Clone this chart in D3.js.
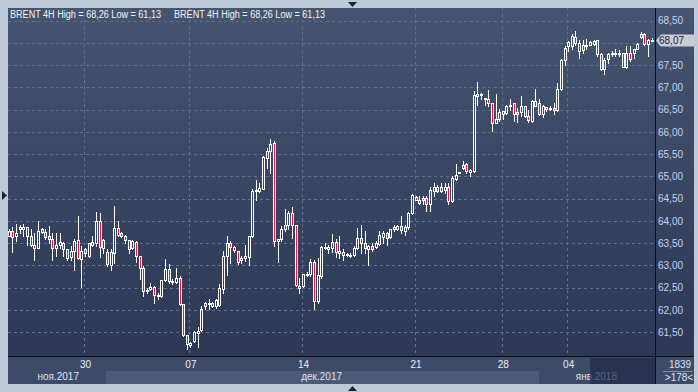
<!DOCTYPE html>
<html>
<head>
<meta charset="utf-8">
<title>BRENT 4H</title>
<script src="https://d3js.org/d3.v7.min.js"></script>
<style>
  body { margin: 0; background: #bfcad9; }
  svg { display: block; }
  text { font-family: "Liberation Sans", Arial, sans-serif; }
</style>
</head>
<body>
<script>
// 4H candles (oldest first)
var opens = [63.67,63.77,63.67,63.83,63.83,63.87,63.67,63.47,63.40,63.76,63.76,63.67,63.60,63.40,63.45,63.51,63.36,63.19,63.32,63.58,
  63.15,63.36,63.21,63.47,63.51,63.99,63.40,63.31,63.02,63.28,63.85,63.73,63.67,63.58,63.40,63.52,63.22,62.94,62.42,62.48,
  62.52,62.33,62.31,62.67,62.92,62.65,62.63,62.72,62.14,61.43,61.21,61.30,61.49,61.55,62.09,62.15,62.10,62.09,62.11,62.48,
  63.21,63.50,63.42,63.32,63.12,63.17,63.20,63.66,64.67,64.67,64.72,65.42,65.57,65.74,63.55,63.59,63.81,63.92,64.17,63.90,
  62.50,62.54,62.79,62.81,63.08,62.20,62.76,63.42,63.38,63.40,63.53,63.32,63.30,63.25,63.23,63.23,63.40,63.62,63.50,63.36,
  63.44,63.42,63.48,63.65,63.72,63.65,63.81,63.83,63.89,63.77,63.87,64.18,64.54,64.48,64.47,64.52,64.39,64.67,64.67,64.68,
  64.70,64.76,64.45,64.95,65.10,65.19,65.27,65.10,65.12,66.80,66.82,66.76,66.74,66.64,66.20,66.28,66.47,66.43,66.58,66.64,
  66.39,66.44,66.59,66.35,66.24,66.69,66.64,66.41,66.56,66.54,66.54,66.50,66.97,67.62,67.92,67.92,68.13,68.00,67.83,67.96,
  67.96,67.98,68.06,67.74,67.41,67.64,67.74,67.76,67.74,67.77,67.46,67.76,67.77,67.86,68.13,68.19,67.98,68.07];
var highs = [63.81,63.87,63.94,63.90,63.94,63.87,63.82,63.73,63.99,63.85,63.82,63.88,63.73,63.73,63.72,63.52,63.36,63.43,63.60,64.11,
  63.43,63.40,63.51,63.67,64.20,64.18,63.60,63.36,63.36,64.33,63.99,63.75,63.69,63.58,63.58,63.55,63.22,62.98,62.50,62.60,
  62.55,62.39,62.68,63.15,63.04,62.70,62.95,62.76,62.14,61.43,61.28,61.53,61.62,62.08,62.18,62.25,62.17,62.24,62.58,63.32,
  63.66,63.55,63.44,63.32,63.21,63.47,63.67,64.71,64.93,64.86,65.46,65.64,65.83,65.79,63.59,63.88,64.26,64.22,64.32,63.90,
  62.72,62.82,62.85,63.14,63.12,63.17,63.44,63.51,63.47,63.70,63.59,63.66,63.38,63.29,63.27,63.44,63.85,63.92,63.77,63.45,
  63.51,63.55,63.77,63.77,63.75,63.83,63.92,63.92,64.11,63.92,64.20,64.60,64.56,64.57,64.56,64.56,64.77,64.86,64.80,64.86,
  64.86,64.86,65.01,65.27,65.11,65.34,65.31,65.17,66.91,67.12,66.88,66.77,66.95,66.64,66.84,66.52,66.47,66.61,66.74,66.65,
  66.54,66.80,66.59,66.50,66.71,66.97,66.73,66.61,66.56,66.57,66.65,67.09,67.64,67.92,68.04,68.19,68.26,68.06,68.07,68.09,
  68.04,68.06,68.07,67.77,67.66,67.77,67.81,67.85,67.83,67.77,67.92,67.92,67.86,68.00,68.24,68.22,68.09,68.10];
var lows = [63.66,63.30,63.55,63.73,63.67,63.47,63.43,63.12,63.40,63.73,63.60,63.51,63.12,63.21,63.40,63.22,63.13,63.13,62.89,63.15,
  62.52,63.21,63.19,63.43,63.43,63.19,63.28,62.98,62.89,63.06,63.67,63.64,63.51,63.28,63.36,63.07,62.70,62.31,62.39,62.46,
  62.15,62.24,62.30,62.65,62.61,62.58,62.61,62.12,61.41,61.13,61.16,61.29,61.16,61.52,62.02,62.02,62.06,62.05,62.09,62.39,
  62.78,63.06,63.30,63.03,63.06,63.10,63.00,63.65,64.48,64.65,64.71,65.19,65.08,63.44,63.08,63.55,63.77,63.81,63.62,62.54,
  62.39,62.52,62.76,62.76,62.02,62.16,62.73,63.38,63.29,63.30,63.20,63.17,63.12,63.21,63.20,63.21,63.36,63.29,63.29,63.02,
  63.33,63.40,63.47,63.50,63.47,63.62,63.77,63.80,63.74,63.68,63.81,64.15,64.47,64.37,64.37,64.22,64.22,64.56,64.65,64.65,
  64.62,64.37,64.42,64.92,65.09,65.16,65.08,65.01,65.10,66.61,66.73,66.61,66.58,66.02,66.19,66.24,66.28,66.41,66.50,66.24,
  66.22,66.35,66.34,66.22,66.22,66.58,66.37,66.34,66.47,66.50,66.39,66.47,66.95,67.51,67.81,67.86,67.94,67.66,67.77,67.85,
  67.94,67.94,67.71,67.39,67.29,67.55,67.70,67.71,67.71,67.46,67.44,67.59,67.66,67.85,68.10,67.96,67.70,68.05];
var closes = [63.77,63.64,63.73,63.86,63.86,63.67,63.47,63.40,63.78,63.82,63.64,63.60,63.40,63.47,63.52,63.37,63.17,63.32,63.56,63.17,
  63.32,63.28,63.50,63.52,64.00,63.42,63.57,63.04,63.31,63.85,63.69,63.67,63.57,63.37,63.54,63.22,62.94,62.42,62.46,62.52,
  62.34,62.34,62.68,62.92,62.65,62.66,62.72,62.14,61.43,61.24,61.27,61.51,61.54,62.02,62.15,62.16,62.15,62.22,62.50,63.21,
  63.50,63.42,63.35,63.08,63.17,63.21,63.66,64.67,64.69,64.75,65.44,65.57,65.72,63.55,63.59,63.82,63.92,64.17,63.90,62.57,
  62.55,62.80,62.82,63.08,62.20,62.78,63.42,63.40,63.42,63.53,63.30,63.27,63.23,63.25,63.23,63.40,63.62,63.50,63.40,63.44,
  63.36,63.50,63.68,63.72,63.62,63.81,63.87,63.89,63.80,63.87,64.18,64.58,64.48,64.41,64.52,64.37,64.69,64.77,64.77,64.77,
  64.76,64.45,64.97,65.04,65.10,65.25,65.12,65.14,66.82,66.86,66.85,66.77,66.65,66.19,66.28,66.44,66.39,66.59,66.61,66.39,
  66.44,66.59,66.35,66.26,66.69,66.59,66.39,66.59,66.52,66.52,66.49,66.97,67.62,67.89,68.01,68.16,68.00,67.81,67.94,67.96,
  68.01,68.04,67.74,67.40,67.62,67.74,67.77,67.76,67.77,67.46,67.77,67.64,67.86,67.98,68.20,67.98,68.07,68.07];

var priceTicks = [61.5, 62.0, 62.5, 63.0, 63.5, 64.0, 64.5, 65.0, 65.5, 66.0, 66.5, 67.0, 67.5, 68.0, 68.5];
var dateTickIdx = [21, 50, 81, 112, 136, 154];
var dateTickLabels = ["30", "07", "14", "21", "28", "04"];
var monthLabels = ["ноя.2017", "дек.2017", "янв.2018"];
var legendText = "BRENT 4H High = 68,26 Low = 61,13";
var lastPrice = 68.07;
var totalBars = "1839", shownBars = ">178<";

var W = 698, H = 392;
var plot = {left: 8, right: 655, top: 8, bottom: 356};
var red = "#e0173f";

var svg = d3.select("body").append("svg")
  .attr("width", W).attr("height", H);

var defs = svg.append("defs");
var grad = defs.append("linearGradient").attr("id", "bg")
  .attr("x1", 0).attr("y1", 0).attr("x2", 0).attr("y2", 1);
grad.append("stop").attr("offset", "0%").attr("stop-color", "#46556f");
grad.append("stop").attr("offset", "100%").attr("stop-color", "#2c3855");
defs.append("clipPath").attr("id", "clip").append("rect")
  .attr("x", plot.left).attr("y", plot.top)
  .attr("width", plot.right - plot.left).attr("height", plot.bottom - plot.top);

// outer frame
svg.append("rect").attr("width", W).attr("height", H).attr("fill", "#bfcad9");
svg.append("rect").attr("x", 8).attr("y", 8).attr("width", 686).attr("height", 376).attr("fill", "#3c4a67");
svg.append("rect").attr("x", plot.left).attr("y", plot.top)
  .attr("width", 686).attr("height", plot.bottom - plot.top).attr("fill", "url(#bg)");

// little arrows on the frame
svg.append("path").attr("d", "M348,2 L357,2 L352.5,7 Z").attr("fill", "#1c2436");
svg.append("path").attr("d", "M348,391 L357,391 L352.5,386 Z").attr("fill", "#1c2436");
svg.append("path").attr("d", "M2,191 L2,200 L7,195.5 Z").attr("fill", "#1c2436");

// scales
var x = d3.scaleBand().domain(d3.range(opens.length)).range([7.5, 654]);
var y = d3.scaleLinear().domain([61.5, 68.5]).range([332.3, 20.5]);
var cx = function(i) { return Math.floor(x(i) + x.bandwidth() / 2); };
var fmt = function(v) { return d3.format(".2f")(v).replace(".", ","); };

// bottom bands
var bottom = svg.append("g");
bottom.append("rect").attr("x", 8).attr("y", 357).attr("width", 647).attr("height", 27).attr("fill", "#3d4b68");
bottom.append("rect").attr("x", 106).attr("y", 371).attr("width", 433).attr("height", 13).attr("fill", "#4b5a77");
bottom.append("rect").attr("x", 656).attr("y", 357).attr("width", 38).attr("height", 27).attr("fill", "#3d4b68");

// grid
var grid = svg.append("g").attr("stroke", "#5f6f8d").attr("stroke-dasharray", "3,3").attr("shape-rendering", "crispEdges");
grid.selectAll(".h").data(priceTicks).enter().append("line")
  .attr("x1", plot.left).attr("x2", plot.right)
  .attr("y1", function(d) { return Math.round(y(d)) + 0.5; })
  .attr("y2", function(d) { return Math.round(y(d)) + 0.5; });
grid.selectAll(".v").data(dateTickIdx).enter().append("line")
  .attr("x1", function(d) { return cx(d) - 0.5; }).attr("x2", function(d) { return cx(d) - 0.5; })
  .attr("y1", plot.top).attr("y2", plot.bottom);

// candles
var candles = d3.range(opens.length).map(function(i) {
  return {i: i, o: opens[i], h: highs[i], l: lows[i], c: closes[i]};
});
var cg = svg.append("g").attr("clip-path", "url(#clip)").attr("shape-rendering", "crispEdges")
  .selectAll(".candle").data(candles).enter().append("g").attr("class", "candle");
function bodyTop(d) { return Math.round(y(Math.max(d.o, d.c))); }
function bodyBot(d) { return Math.max(Math.round(y(Math.min(d.o, d.c))), bodyTop(d) + 1); }
cg.append("line").attr("stroke", "#fff")
  .attr("x1", function(d) { return cx(d.i) + 0.5; }).attr("x2", function(d) { return cx(d.i) + 0.5; })
  .attr("y1", function(d) { return Math.round(y(d.h)); })
  .attr("y2", function(d) { return bodyTop(d); });
cg.append("line").attr("stroke", "#fff")
  .attr("x1", function(d) { return cx(d.i) + 0.5; }).attr("x2", function(d) { return cx(d.i) + 0.5; })
  .attr("y1", function(d) { return bodyBot(d) + 1; })
  .attr("y2", function(d) { return Math.max(Math.round(y(d.l)) + 1, bodyBot(d) + 1); });
cg.append("rect")
  .attr("x", function(d) { return cx(d.i) - 0.5; })
  .attr("y", function(d) { return bodyTop(d) + 0.5; })
  .attr("width", 2)
  .attr("height", function(d) { return bodyBot(d) - bodyTop(d); })
  .attr("fill", function(d) { return d.c < d.o ? red : "none"; })
  .attr("stroke", "#fff");

// separators
svg.append("line").attr("x1", 655.5).attr("x2", 655.5).attr("y1", 8).attr("y2", 384).attr("stroke", "#0b0f18");
svg.append("line").attr("x1", 8).attr("x2", 694).attr("y1", 356.5).attr("y2", 356.5).attr("stroke", "#0b0f18");

// price axis
var yAxis = svg.append("g").attr("transform", "translate(656,0)")
  .call(d3.axisRight(y).tickValues(priceTicks).tickSize(0).tickPadding(2).tickFormat(fmt));
yAxis.select(".domain").remove();
yAxis.selectAll("text").attr("fill", "#c2d6f2").style("font-size", "10px")
  .style("font-family", "'Liberation Sans', Arial, sans-serif");

// date axis
var xAxis = svg.append("g").attr("transform", "translate(0,357)")
  .call(d3.axisBottom(x).tickValues(dateTickIdx).tickSize(0).tickPadding(4)
    .tickFormat(function(d, k) { return dateTickLabels[k]; }));
xAxis.select(".domain").remove();
xAxis.selectAll("text").attr("fill", "#e9eef6").style("font-size", "10px")
  .style("font-family", "'Liberation Sans', Arial, sans-serif");

// month row
var monthEnds = [79, 342, 617];
svg.selectAll(".month").data(monthLabels).enter().append("text")
  .attr("x", function(d, k) { return monthEnds[k]; }).attr("y", 380)
  .attr("text-anchor", "end").attr("fill", "#dce3ee").style("font-size", "10px")
  .text(function(d) { return d; });
// dim overlay on the last part of the time scale
svg.append("rect").attr("x", 590).attr("y", 358).attr("width", 65).attr("height", 26)
  .attr("fill", "#1f2944").attr("opacity", 0.7);

// bar counters
svg.append("text").attr("x", 680).attr("y", 368).attr("text-anchor", "middle")
  .attr("fill", "#dce3ee").style("font-size", "10px").text(totalBars);
svg.append("line").attr("x1", 663).attr("x2", 692).attr("y1", 371.5).attr("y2", 371.5).attr("stroke", "#8592a8");
svg.append("text").attr("x", 679).attr("y", 381).attr("text-anchor", "middle")
  .attr("fill", "#dce3ee").style("font-size", "10px").text(shownBars);

// last price tag
var ly = Math.round(y(lastPrice)) + 0.5;
svg.append("path")
  .attr("d", "M656," + ly + " L661," + (ly - 6) + " L694," + (ly - 6) + " L694," + (ly + 6) + " L661," + (ly + 6) + " Z")
  .attr("fill", "#c8cdd5");
svg.append("text").attr("x", 659).attr("y", ly + 3.5).attr("fill", "#1b2232")
  .style("font-size", "10px").text(fmt(lastPrice));

// legend
[10, 174].forEach(function(lx) {
  svg.append("text").attr("x", lx).attr("y", 18).attr("fill", "#f2f4f8")
    .style("font-size", "10px").attr("textLength", 151).attr("lengthAdjust", "spacingAndGlyphs")
    .text(legendText);
});
</script>
</body>
</html>
